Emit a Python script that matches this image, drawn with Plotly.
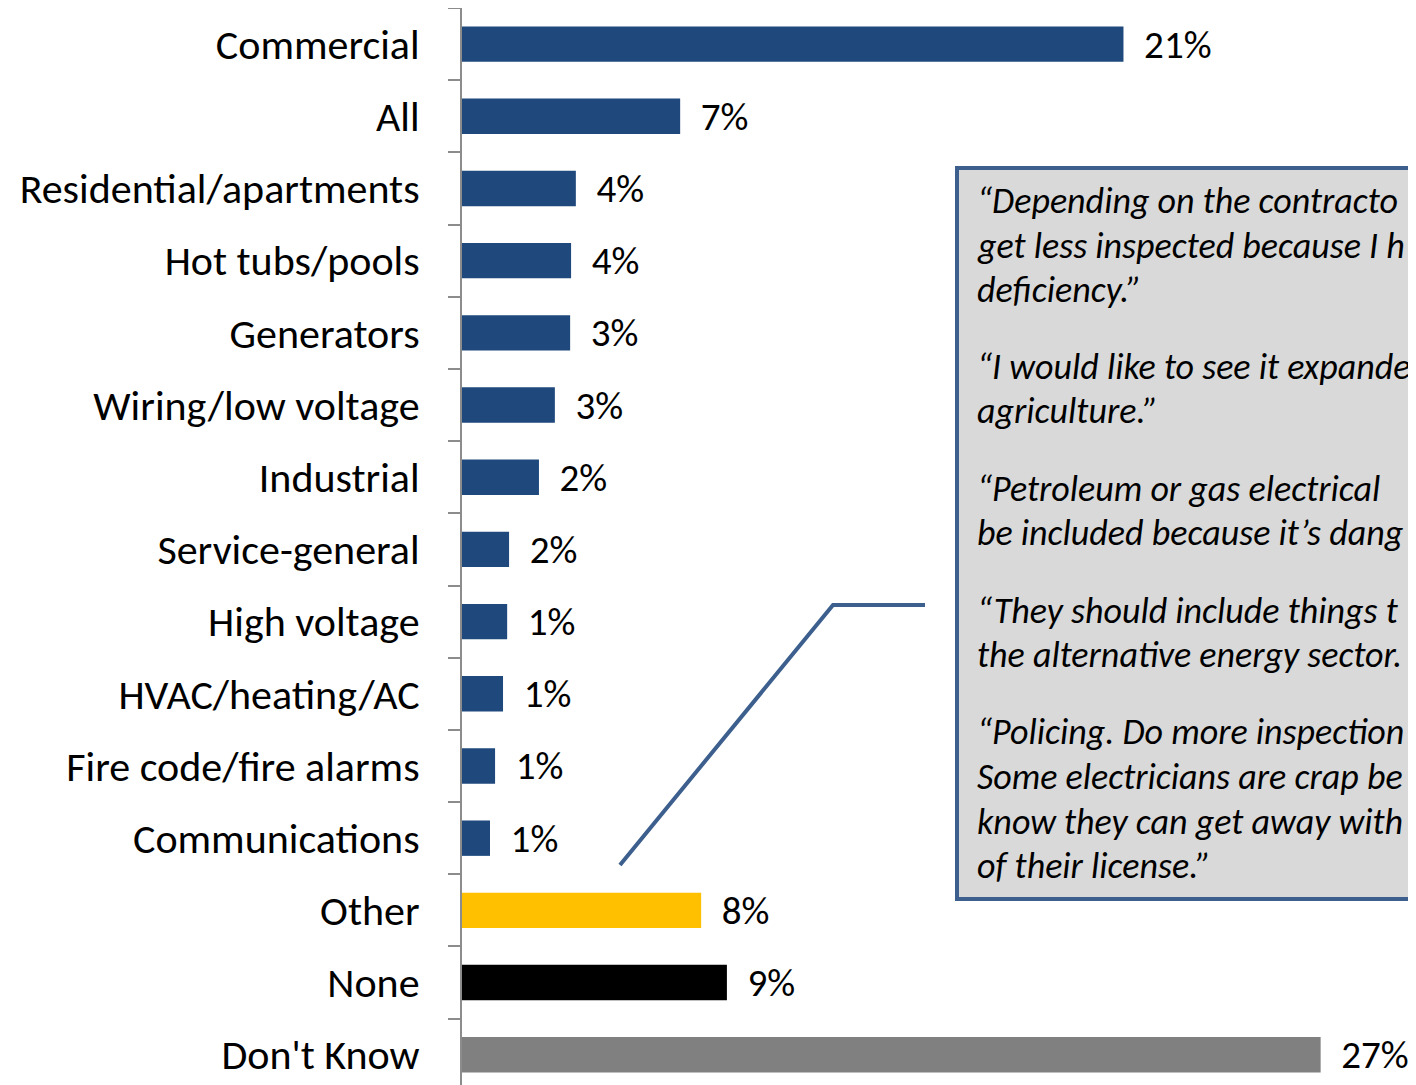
import plotly.graph_objects as go

W, H = 1416, 1085
OFF = 8  # page body margin of the html page

categories = ["Commercial", "All", "Residential/apartments", "Hot tubs/pools", "Generators",
              "Wiring/low voltage", "Industrial", "Service-general", "High voltage",
              "HVAC/heating/AC", "Fire code/fire alarms", "Communications", "Other",
              "None", "Don't Know"]
values = [20.8, 6.86, 3.58, 3.43, 3.40, 2.92, 2.42, 1.48, 1.42, 1.29, 1.04, 0.88, 7.52, 8.33, 27.0]
value_labels = ["21%", "7%", "4%", "4%", "3%", "3%", "2%", "2%", "1%", "1%", "1%", "1%", "8%", "9%", "27%"]
bar_colors = ["#1f497d"] * 12 + ["#ffc000", "#000000", "#808080"]

# quote lines as far as they show inside the page
quote_lines = [
    "“Depending on the contracto",
    "get less inspected because I h",
    "deficiency.”",
    "“I would like to see it expande",
    "agriculture.”",
    "“Petroleum or gas electrical",
    "be included because it’s dang",
    "“They should include things t",
    "the alternative energy sector.",
    "“Policing. Do more inspection",
    "Some electricians are crap be",
    "know they can get away with",
    "of their license.”",
]
line_y = [201, 246, 290, 367, 411, 489, 533, 611, 655, 732, 777, 822, 866]

FONT = "Calibri, Carlito, Lato, sans-serif"


def px(x):
    return (x - OFF) / W


def py(y):
    return 1 - (y - OFF) / H


fig = go.Figure(go.Bar(
    x=values, y=categories, orientation="h",
    marker=dict(color=bar_colors, line=dict(width=0)),
    width=0.49,
    text=value_labels, texttemplate="  %{text}", textposition="outside",
    constraintext="none",
    textfont=dict(size=39, color="black", family=FONT),
    cliponaxis=False,
))

fig.update_layout(
    width=W, height=H,
    margin=dict(l=0, r=0, t=0, b=0),
    plot_bgcolor="white", paper_bgcolor="white",
    showlegend=False,
    font=dict(family=FONT, color="black"),
    xaxis=dict(domain=[px(462), 1], range=[0, 30.25], visible=False, fixedrange=True),
    yaxis=dict(domain=[0, 1], range=[14.53, -0.5], automargin=False,
               showline=True, linecolor="#8c8c8c", linewidth=2,
               ticks="outside", ticklen=12, tickcolor="#8c8c8c", tickwidth=2,
               tickson="boundaries", ticklabelstandoff=32,
               tickfont=dict(size=42, color="black", family=FONT),
               showgrid=False, zeroline=False),
)

# callout box
fig.add_shape(type="rect", xref="paper", yref="paper",
              x0=px(957), x1=px(1460), y0=py(168), y1=py(899),
              fillcolor="#d9d9d9", line=dict(color="#3c5f8e", width=4), layer="above")
# connector
fig.add_shape(type="path", xref="paper", yref="paper",
              path=f"M {px(620)} {py(865)} L {px(833)} {py(605)} L {px(925)} {py(605)}",
              line=dict(color="#3c5f8e", width=4))

for line, y in zip(quote_lines, line_y):
    fig.add_annotation(xref="paper", yref="paper", x=px(975), y=py(y),
                       xanchor="left", yanchor="middle", align="left", showarrow=False,
                       text=f"<i>{line}</i>",
                       font=dict(size=36, color="black", family=FONT))

fig.write_html("out.html")
